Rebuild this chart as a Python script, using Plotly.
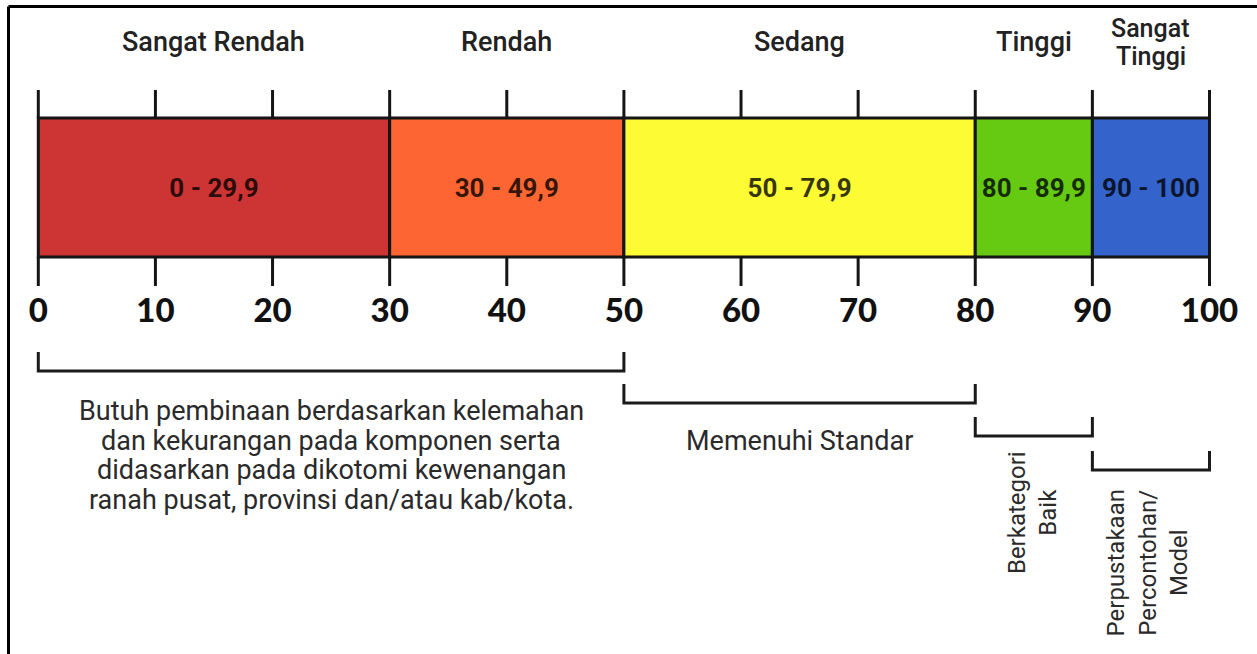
import plotly.graph_objects as go

# ---------------- data ----------------
categories = ["Sangat Rendah", "Rendah", "Sedang", "Tinggi", "Sangat<br>Tinggi"]
range_start = [0, 30, 50, 80, 90]
range_end = [30, 50, 80, 90, 100]
range_labels = ["0 - 29,9", "30 - 49,9", "50 - 79,9", "80 - 89,9", "90 - 100"]
tick_values = [0, 10, 20, 30, 40, 50, 60, 70, 80, 90, 100]
tick_labels = ["0", "10", "20", "30", "40", "50", "60", "70", "80", "90", "100"]
bracket_start = [0, 50, 80, 90]
bracket_end = [50, 80, 90, 100]
bracket_captions = [
    ["Butuh pembinaan berdasarkan kelemahan",
     "dan kekurangan pada komponen serta",
     "didasarkan pada dikotomi kewenangan",
     "ranah pusat, provinsi dan/atau kab/kota."],
    ["Memenuhi Standar"],
    ["Berkategori", "Baik"],
    ["Perpustakaan", "Percontohan/", "Model"],
]

# ---------------- style / layout constants ----------------
W, H = 1257, 654
PX0, PX100 = 38.3, 1209.5
scale = (PX100 - PX0) / 100.0
x_lo = -PX0 / scale
x_hi = 100 + (W - PX100) / scale

colors = ["#CD3434", "#FD6632", "#FDFB33", "#66C912", "#3563CC"]
LINE = "#151515"
bar_top, bar_bot = 118, 257
tick_top_a, tick_bot_b = 90, 286
num_y = 314
label_y = 42
bracket_levels = [(352, 371), (384, 403), (417, 436), (451, 470)]

fig = go.Figure()

# colored bands
widths = [e - s for s, e in zip(range_start, range_end)]
fig.add_trace(go.Bar(
    y=[(bar_top + bar_bot) / 2] * len(widths), x=widths, base=range_start,
    orientation="h", width=bar_bot - bar_top,
    marker=dict(color=colors, line=dict(color=LINE, width=3)),
    text=range_labels, textposition="inside", insidetextanchor="middle",
    constraintext="none",
    textfont=dict(family="Roboto", size=26, color="rgba(0,0,0,0.78)", weight="bold"),
    hoverinfo="skip", showlegend=False,
))

# tick marks above and below the bar
tx, ty = [], []
for v in tick_values:
    tx += [v, v, None, v, v, None]
    ty += [tick_top_a, bar_top, None, bar_bot, tick_bot_b, None]
fig.add_trace(go.Scatter(x=tx, y=ty, mode="lines", line=dict(color=LINE, width=3),
                         hoverinfo="skip", showlegend=False))

# tick numbers
fig.add_trace(go.Scatter(
    x=tick_values, y=[num_y] * len(tick_values), mode="text", text=tick_labels,
    textposition="middle center",
    textfont=dict(family="Lato", size=33, color="#111111", weight=900),
    hoverinfo="skip", showlegend=False, cliponaxis=False,
))

# brackets
bx, by = [], []
for s, e, (top, bot) in zip(bracket_start, bracket_end, bracket_levels):
    bx += [s, s, e, e, None]
    by += [top, bot, bot, top, None]
fig.add_trace(go.Scatter(x=bx, y=by, mode="lines", line=dict(color="#1a1a1a", width=3),
                         hoverinfo="skip", showlegend=False))

annotations = []
# category labels on top
top_font = dict(family="Roboto", size=27, color="#222222", weight=500)
for c, s, e in zip(categories, range_start, range_end):
    parts = c.split("<br>")
    if len(parts) == 1:
        annotations.append(dict(x=(s + e) / 2, y=label_y, text=c, showarrow=False,
                                font=top_font, xanchor="center", yanchor="middle"))
    else:
        for k, p in enumerate(parts):
            annotations.append(dict(x=(s + e) / 2, y=label_y - 14 + k * 28, text=p,
                                    showarrow=False,
                                    font=dict(family="Roboto", size=25, color="#222222", weight=500),
                                    xanchor="center", yanchor="middle"))

# caption 1: four lines under first bracket
cap_font = dict(family="Roboto", size=27, color="#2a2a2a")
for i, line in enumerate(bracket_captions[0]):
    annotations.append(dict(
        x=(bracket_start[0] + bracket_end[0]) / 2, y=411 + i * 29.5, text=line,
        showarrow=False, font=cap_font, xanchor="center", yanchor="middle"))
# caption 2
annotations.append(dict(
    x=(bracket_start[1] + bracket_end[1]) / 2, y=441, text=bracket_captions[1][0],
    showarrow=False, font=cap_font, xanchor="center", yanchor="middle"))
# caption 3 & 4 rotated
rot_font = dict(family="Roboto", size=24, color="#2a2a2a")
annotations.append(dict(
    x=(bracket_start[2] + bracket_end[2]) / 2 - 0.15, y=513, text="<br>".join(bracket_captions[2]),
    showarrow=False, font=rot_font, textangle=-90, xanchor="center", yanchor="middle"))
annotations.append(dict(
    x=(bracket_start[3] + bracket_end[3]) / 2 - 0.3, y=563, text="<br>".join(bracket_captions[3]),
    showarrow=False, font=rot_font, textangle=-90, xanchor="center", yanchor="middle"))

fig.update_layout(
    width=W, height=H, margin=dict(l=0, r=0, t=0, b=0),
    paper_bgcolor="white", plot_bgcolor="white",
    xaxis=dict(range=[x_lo, x_hi], visible=False, fixedrange=True),
    yaxis=dict(range=[H, 0], visible=False, fixedrange=True),
    annotations=annotations,
    shapes=[
        dict(type="line", xref="paper", yref="paper", x0=8.5 / W, x1=1, y0=1 - 6.5 / H, y1=1 - 6.5 / H,
             line=dict(color="#000000", width=3)),
        dict(type="line", xref="paper", yref="paper", x0=8.5 / W, x1=8.5 / W, y0=0, y1=1 - 6.5 / H,
             line=dict(color="#000000", width=3)),
    ],
    showlegend=False,
)

fig.write_html("out.html", config={"displayModeBar": False},
               post_script="document.body.style.margin='0';document.body.style.overflow='hidden';")
